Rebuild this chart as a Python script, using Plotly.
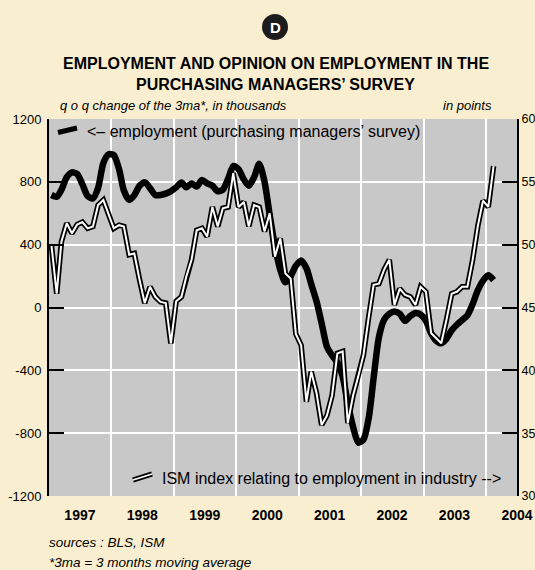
import plotly.graph_objects as go
import pandas as pd

# Employment: q-o-q change of the 3-month moving average, thousands (left axis)
employment = [716, 705, 750, 830, 860, 850, 785, 710, 695, 760,
              920, 975, 970, 880, 745, 685, 715, 775, 798, 760,
              716, 716, 725, 740, 765, 795, 765, 790, 770, 812,
              790, 775, 740, 750, 820, 900, 880, 815, 775, 830,
              915, 800, 590, 390, 240, 160, 200, 265, 300, 250,
              150, 40, -100, -250, -305, -350, -440, -610, -760, -860,
              -840, -700, -450, -190, -80, -40, -25, -40, -85, -55,
              -35, -45, -85, -165, -210, -228, -200, -145, -110, -80,
              -50, 20, 110, 170, 205, 175]

# ISM index relating to employment in industry, points (right axis)
ism_employment = [50.0, 46.1, 50.25, 51.7, 50.9, 51.6, 51.8, 51.3, 51.45, 53.15,
                  53.55, 52.4, 51.3, 51.55, 51.45, 49.2, 49.3, 47.2, 45.35, 46.65,
                  45.85, 45.45, 45.35, 42.15, 45.5, 45.85, 47.45, 48.8, 51.15, 51.3,
                  50.65, 53.0, 51.45, 52.9, 53.0, 55.7, 53.0, 53.4, 51.45, 53.15,
                  53.0, 51.05, 52.5, 49.05, 50.5, 47.7, 47.3, 42.9, 42.0, 37.5,
                  39.9, 38.2, 35.65, 36.4, 38.0, 41.35, 41.5, 35.8, 38.0, 39.5,
                  41.25, 44.3, 46.8, 46.9, 48.0, 48.8, 45.2, 46.5, 46.0, 45.85,
                  45.2, 46.65, 46.25, 42.95, 42.55, 42.15, 44.0, 46.1, 46.25, 46.65,
                  46.65, 48.75, 51.5, 53.5, 53.0, 56.25]

years = [1997, 1998, 1999, 2000, 2001, 2002, 2003, 2004]
year_labels = [str(y) for y in years]
left_ticks = [-1200, -800, -400, 0, 400, 800, 1200]
right_ticks = [30, 35, 40, 45, 50, 55, 60]

months = pd.date_range("1997-01-01", periods=len(employment), freq="MS") + pd.Timedelta(days=14)

CREAM = "#F9EFD0"
GREY = "#C8C8C8"
FONT = "Liberation Sans, Arial, Helvetica, sans-serif"

# plot-area pixel geometry helpers (for annotations only)
L, R, T, B = 49, 517, 119, 496
def px(xp):
    return (xp - L) / (R - L)
def py(yp):
    return (B - yp) / (B - T)

fig = go.Figure()
fig.add_trace(go.Scatter(x=months, y=employment, mode="lines", yaxis="y",
                         line=dict(color="black", width=6.5, shape="spline", smoothing=0.7),
                         hoverinfo="skip", showlegend=False))
fig.add_trace(go.Scatter(x=months, y=ism_employment, mode="lines", yaxis="y2",
                         line=dict(color="black", width=5.5),
                         hoverinfo="skip", showlegend=False))
fig.add_trace(go.Scatter(x=months, y=ism_employment, mode="lines", yaxis="y2",
                         line=dict(color="white", width=2),
                         hoverinfo="skip", showlegend=False))

fig.update_layout(
    width=535, height=570, autosize=False,
    paper_bgcolor=CREAM, plot_bgcolor=GREY,
    margin=dict(l=L, r=535 - R, t=T, b=570 - B, pad=0, autoexpand=False),
    font=dict(family=FONT, color="black"),
    showlegend=False,
    xaxis=dict(
        type="date", automargin=False,
        range=["1997-01-01", "2004-07-01"],
        tickvals=[f"{y}-07-01" for y in years],
        ticktext=year_labels,
        tickfont=dict(size=14, weight="bold", family=FONT),
        ticks="", showgrid=False, showline=False, zeroline=False,
        ticklabelstandoff=9,
        minor=dict(tickvals=[f"{y}-01-01" for y in years[1:]], showgrid=True,
                   gridcolor="white", gridwidth=2, ticks=""),
    ),
    yaxis=dict(
        automargin=False,
        range=[-1200, 1200], tickvals=left_ticks, ticktext=[str(v) for v in left_ticks],
        ticks="inside", ticklen=15, tickwidth=2, tickcolor="black",
        showline=True, linecolor="black", linewidth=2,
        showgrid=True, gridcolor="white", gridwidth=2, zeroline=False,
        tickfont=dict(size=13, family=FONT), ticklabelstandoff=3,
    ),
    yaxis2=dict(
        automargin=False,
        overlaying="y", side="right",
        range=[30, 60], tickvals=right_ticks, ticktext=[str(v) for v in right_ticks],
        ticks="inside", ticklen=15, tickwidth=2, tickcolor="black",
        showline=True, linecolor="black", linewidth=2,
        showgrid=False, zeroline=False,
        tickfont=dict(size=12.5, family=FONT), ticklabelstandoff=0,
    ),
)

shapes = [
    # badge
    dict(type="circle", xref="paper", yref="paper", xsizemode="pixel", ysizemode="pixel",
         xanchor=px(275), yanchor=py(27), x0=-13, x1=13, y0=-13, y1=13,
         fillcolor="#1c1c1c", line=dict(width=0), layer="above"),
    # legend icon: employment
    dict(type="line", xref="paper", yref="paper", xsizemode="pixel", ysizemode="pixel",
         xanchor=px(58), yanchor=py(132.5), x0=0, x1=19, y0=0, y1=4.5,
         line=dict(color="black", width=5)),
    # legend icon: ISM (outline + white core)
    dict(type="line", xref="paper", yref="paper", xsizemode="pixel", ysizemode="pixel",
         xanchor=px(133), yanchor=py(480), x0=0, x1=19, y0=0, y1=6,
         line=dict(color="black", width=5)),
    dict(type="line", xref="paper", yref="paper", xsizemode="pixel", ysizemode="pixel",
         xanchor=px(133), yanchor=py(480), x0=0, x1=19, y0=0, y1=6,
         line=dict(color="white", width=1.8)),
]
fig.update_layout(shapes=shapes)

def ann(text, x, y, size, xanchor="left", italic=False, bold=False, color="black"):
    fig.add_annotation(text=text, xref="paper", yref="paper", x=x, y=y,
                       xanchor=xanchor, yanchor="middle", showarrow=False,
                       font=dict(size=size, family=FONT, color=color,
                                 style="italic" if italic else "normal",
                                 weight="bold" if bold else "normal"))

ann("D", px(275), py(27), 15, xanchor="center", bold=True, color="white")
ann("EMPLOYMENT AND OPINION ON EMPLOYMENT IN THE", px(275.5), py(64), 16, xanchor="center", bold=True)
ann("PURCHASING MANAGERS’ SURVEY", px(275.5), py(85), 16, xanchor="center", bold=True)
ann("q o q change of the 3ma*, in thousands", px(58), py(106), 13, italic=True)
ann("in points", px(494), py(106), 13, xanchor="right", italic=True)
ann("<– employment (purchasing managers’ survey)", px(85), py(131), 16)
ann("ISM index relating to employment in industry -->", px(160), py(478), 16)
ann("sources : BLS, ISM", px(47), py(542), 13.5, italic=True)
ann("*3ma = 3 months moving average", px(47), py(562), 13.5, italic=True)

fig.write_html(
    "out.html",
    config={"displayModeBar": False},
    post_script="document.documentElement.style.margin='0';document.documentElement.style.overflow='hidden';"
                "document.body.style.margin='0';document.body.style.padding='0';document.body.style.overflow='hidden';",
)
